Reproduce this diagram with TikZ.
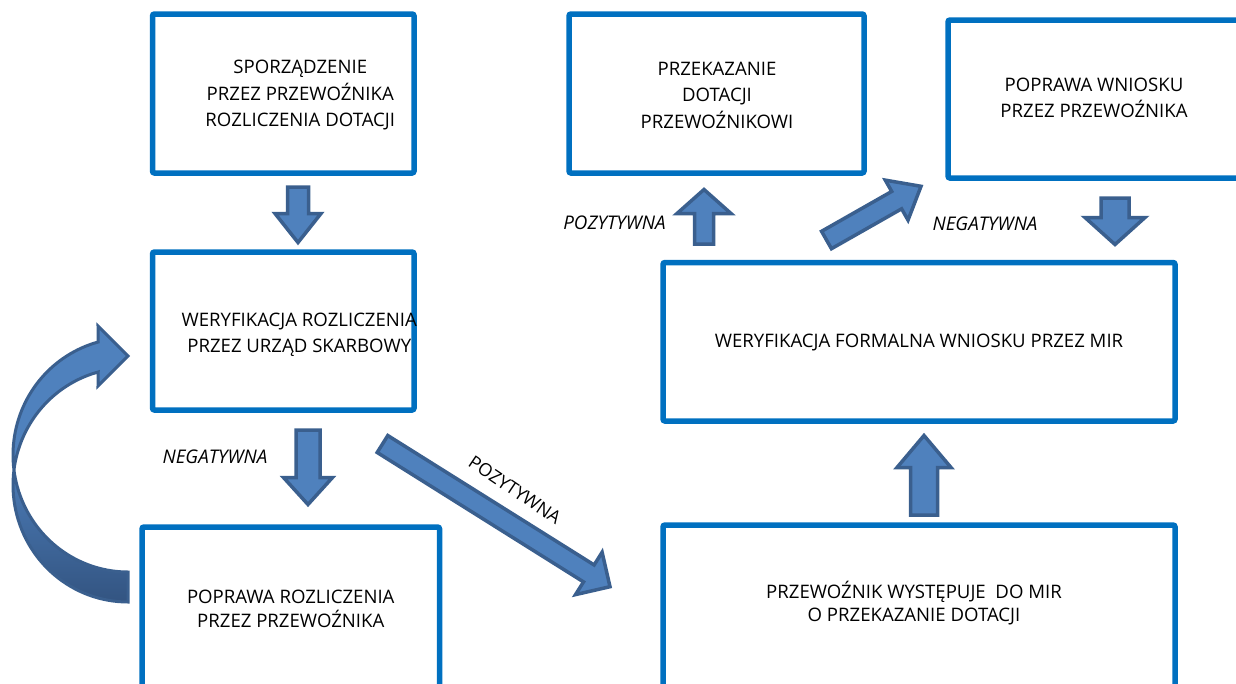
\documentclass[tikz,border=0pt]{standalone}
\usepackage{fontspec}
\setmainfont{Open Sans}
\usetikzlibrary{calc}
\definecolor{ramka}{HTML}{0070C0}
\definecolor{strzalka}{HTML}{4F81BD}
\definecolor{obrys}{HTML}{3A5F8E}
\definecolor{tyl}{HTML}{3C6398}
\begin{document}
\begin{tikzpicture}[x=1pt,y=-1pt,
    ramka/.style={draw=ramka,line width=5.5pt,rounded corners=2pt,outer sep=0pt},
    opis/.style={align=center,inner sep=0pt,font=\fontsize{18.6}{26.5}\selectfont},
    etykieta/.style={inner sep=0pt,font=\fontsize{18.8}{20}\selectfont\itshape},
    blok/.style={fill=strzalka,draw=obrys,line width=3.5pt,line join=miter}]
\useasboundingbox (0,0) rectangle (1236,683);

% prostokaty
\node[ramka,minimum width=261.5pt,minimum height=159pt] (sporz) at (283.25,93.5) {};
\node[ramka,minimum width=261.5pt,minimum height=158pt] (weryf) at (283.25,331) {};
\node[ramka,minimum width=297.5pt,minimum height=173pt] (popr) at (290.75,613.5) {};
\node[ramka,minimum width=295pt,minimum height=159pt] (przek) at (716.5,93.5) {};
\node[ramka,minimum width=302pt,minimum height=158pt] (poprw) at (1099,99) {};
\node[ramka,minimum width=512pt,minimum height=158.5pt] (wmir) at (919,341.75) {};
\node[ramka,minimum width=512pt,minimum height=175pt] (wyst) at (919,612.5) {};

% teksty
\node[opis] (sporz-t) at ([shift={(17,2)}]sporz.center) {SPORZĄDZENIE\\PRZEZ PRZEWOŹNIKA\\ROZLICZENIA DOTACJI};
\node[opis] (weryf-t) at ([shift={(16,4)}]weryf.center) {WERYFIKACJA ROZLICZENIA\\PRZEZ URZĄD SKARBOWY};
\node[opis,font=\fontsize{18.6}{24}\selectfont] (popr-t) at ([shift={(0,-4.5)}]popr.center) {POPRAWA ROZLICZENIA\\PRZEZ PRZEWOŹNIKA};
\node[opis] (przek-t) at ([shift={(0.5,1.5)}]przek.center) {PRZEKAZANIE\\DOTACJI\\PRZEWOŹNIKOWI};
\node[opis] (poprw-t) at ([shift={(-5,-1)}]poprw.center) {POPRAWA WNIOSKU\\PRZEZ PRZEWOŹNIKA};
\node[opis] (wmir-t) at ([shift={(0,1)}]wmir.center) {WERYFIKACJA FORMALNA WNIOSKU PRZEZ MIR};
\node[opis,font=\fontsize{18.6}{23.5}\selectfont] (wyst-t) at ([shift={(-5,-9.5)}]wyst.center) {PRZEWOŹNIK WYSTĘPUJE\ \ DO MIR\\O PRZEKAZANIE DOTACJI};

% etykiety
\node[etykieta] (neg1) at (215,457) {NEGATYWNA};
\node[etykieta] (poz1) at (614.5,223) {POZYTYWNA};
\node[etykieta] (neg2) at (985,224) {NEGATYWNA};
\node[etykieta,font=\fontsize{18}{20}\selectfont,rotate=-34] (poz2) at (515,490) {POZYTYWNA};

% konce strzalek
\coordinate (a1o) at ($(sporz.south)+(14.75,14)$);
\coordinate (a1g) at ($(weryf.north)+(14.75,-9.5)$);
\coordinate (a2o) at ($(weryf.south)+(24.75,20)$);
\coordinate (a2g) at ($(popr.north)+(17.25,-22.5)$);
\coordinate (a3o) at ($(weryf.south east)+(-31.5,34)$);
\coordinate (a3g) at ($(wyst.north west)+(-53,61.7)$);
\coordinate (a4o) at ($(wmir.north west)+(41,-18.5)$);
\coordinate (a4g) at ($(przek.south)+(-12.5,16.5)$);
\coordinate (a5o) at ($(wmir.north west)+(163.5,-22.5)$);
\coordinate (a5g) at ($(poprw.south west)+(-27,8.3)$);
\coordinate (a6o) at ($(poprw.south)+(16,20)$);
\coordinate (a6g) at ($(wmir.north east)+(-60,-18)$);
\coordinate (a7o) at ($(wyst.north)+(5,-10)$);
\coordinate (a7g) at ($(wmir.south)+(5,14.5)$);

% strzalki blokowe: ogon/grot/pol trzonu/pol grotu/dlugosc grotu
\foreach \o/\g/\s/\h/\l in {a1o/a1g/10.5/23/29, a2o/a2g/12/24.5/27, a3o/a3g/10/25/25,
    a4o/a4g/9.5/27/24, a5o/a5g/10/23/28, a6o/a6g/14/30/27, a7o/a7g/13.5/27/32}{
  \coordinate (hb) at ($(\g)!\l pt!(\o)$);
  \draw[blok] ($(\o)!\s pt!90:(\g)$) -- ($(hb)!\s pt!90:(\g)$) -- ($(hb)!\h pt!90:(\g)$)
    -- (\g) -- ($(hb)!\h pt!-90:(\g)$) -- ($(hb)!\s pt!-90:(\g)$) -- ($(\o)!\s pt!-90:(\g)$) -- cycle;
}

% strzalka zakrzywiona od poprawy do weryfikacji
\coordinate (luk) at ($(popr.north west)+(-14,-72)$);
\begin{scope}[shift={(luk)}]
\draw[blok,line width=3pt,top color=strzalka!80!tyl,bottom color=tyl!85!black]
  plot[domain=172.6:90,samples=40,variable=\t] ({115*cos(\t)},{117*sin(\t)})
  -- plot[domain=90:187.4,samples=40,variable=\t] ({115*cos(\t)},{30+117*sin(\t)}) -- cycle;
\draw[blok,line width=3pt]
  plot[domain=255:172.6,samples=40,variable=\t] ({115*cos(\t)},{117*sin(\t)})
  -- plot[domain=187.4:255,samples=40,variable=\t] ({115*cos(\t)},{30+117*sin(\t)})
  -- (-30,-69) -- (0,-99) -- (-30,-129) -- cycle;
\end{scope}
\end{tikzpicture}
\end{document}
